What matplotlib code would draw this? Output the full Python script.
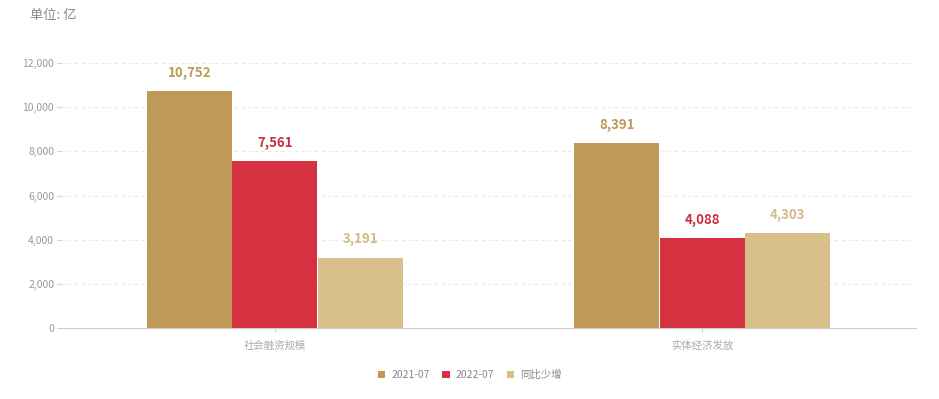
import matplotlib
matplotlib.use("Agg")
import matplotlib.pyplot as plt
import numpy as np
from matplotlib.patches import Patch

plt.rcParams['font.family'] = ['Noto Sans CJK SC', 'DejaVu Sans']

categories = ["社会融资规模", "实体经济发放"]
series_names = ["2021-07", "2022-07", "同比少增"]
values_2021 = [10752, 8391]
values_2022 = [7561, 4088]
values_diff = [3191, 4303]
colors = ["#BF9A56", "#D63141", "#D9BF8A"]
label_colors = ["#BF9A56", "#C9303F", "#D4BA82"]
yticks = [0, 2000, 4000, 6000, 8000, 10000, 12000]

fig = plt.figure(figsize=(9.39, 3.99), dpi=100)
ax = fig.add_axes([61/939, 1-328/399, 855/939, 265/399])

x = np.arange(len(categories)) + 0.5
width = 0.198
all_series = [values_2021, values_2022, values_diff]
for i, (vals, c, lc) in enumerate(zip(all_series, colors, label_colors)):
    pos = x + (i - 1) * 0.2
    ax.bar(pos, vals, width=width, color=c, zorder=3)
    for p, v in zip(pos, vals):
        ax.text(p, v + 500, f"{v:,}", ha="center", va="bottom",
                fontsize=9.5, fontweight="bold", color=lc)

ax.set_xlim(0, len(categories))
ax.set_ylim(0, 12000)
ax.set_yticks(yticks)
ax.set_yticklabels([f"{t:,}" for t in yticks], fontsize=7.5, color="#999999")
ax.set_xticks(x)
ax.set_xticklabels(categories, fontsize=7.5, color="#aaaaaa")
ax.tick_params(axis="y", length=3, color="#cccccc", pad=2)
ax.tick_params(axis="x", length=3, color="#cccccc", pad=6)
ax.grid(axis="y", linestyle=(0, (3, 3)), color="#e8e8e8", linewidth=0.8, zorder=0)
for s in ["top", "right", "left"]:
    ax.spines[s].set_visible(False)
ax.spines["bottom"].set_color("#cccccc")

fig.text(30/939, 1-16/399, "单位: 亿", fontsize=9.5, color="#888888", va="center")

handles = [Patch(facecolor=c, edgecolor="none") for c in colors]
fig.legend(handles, series_names, loc="center", bbox_to_anchor=(470/939, 1-375/399),
           ncol=3, frameon=False, fontsize=7.5, handlelength=0.7, handleheight=0.7,
           columnspacing=1.2, handletextpad=0.6, labelcolor="#888888")

fig.savefig("out.png", dpi=100, facecolor="white")
